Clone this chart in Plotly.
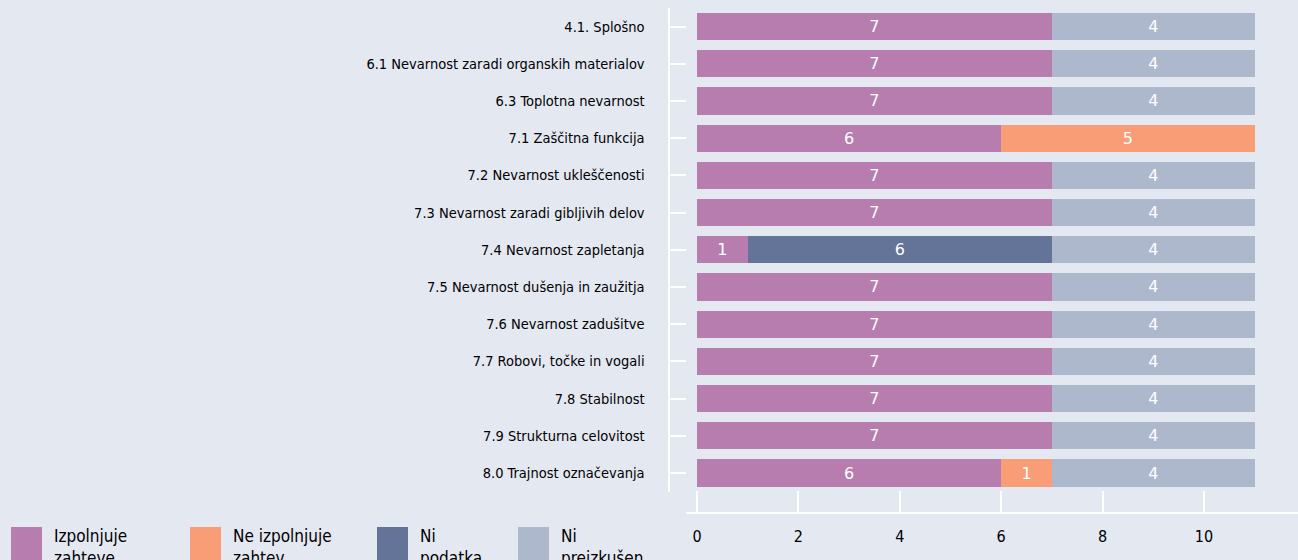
import plotly.graph_objects as go

categories = [
    "4.1. Splošno",
    "6.1 Nevarnost zaradi organskih materialov",
    "6.3 Toplotna nevarnost",
    "7.1 Zaščitna funkcija",
    "7.2 Nevarnost ukleščenosti",
    "7.3 Nevarnost zaradi gibljivih delov",
    "7.4 Nevarnost zapletanja",
    "7.5 Nevarnost dušenja in zaužitja",
    "7.6 Nevarnost zadušitve",
    "7.7 Robovi, točke in vogali",
    "7.8 Stabilnost",
    "7.9 Strukturna celovitost",
    "8.0 Trajnost označevanja",
]
series_names = ["Izpolnjuje zahteve", "Ne izpolnjuje zahtev", "Ni podatka", "Ni preizkušen"]
legend_labels = ["Izpolnjuje<br>zahteve", "Ne izpolnjuje<br>zahtev", "Ni<br>podatka", "Ni<br>preizkušen"]
izpolnjuje = [7, 7, 7, 6, 7, 7, 1, 7, 7, 7, 7, 7, 6]
ne_izpolnjuje = [0, 0, 0, 5, 0, 0, 0, 0, 0, 0, 0, 0, 1]
ni_podatka = [0, 0, 0, 0, 0, 0, 6, 0, 0, 0, 0, 0, 0]
ni_preizkusen = [4, 4, 4, 0, 4, 4, 4, 4, 4, 4, 4, 4, 4]
x_ticks = [0, 2, 4, 6, 8, 10]

colors = ["#b77daf", "#f99d76", "#647398", "#adb8cd"]
BG = "#e4e8f0"
FONT = "Liberation Sans Narrow, DejaVu Sans Condensed, Roboto Condensed, Roboto, sans-serif"
W, H = 1298, 560


def px(x):
    return x / W


def py(y):
    return 1 - y / H


fig = go.Figure()
for name, vals, col in zip(series_names, [izpolnjuje, ne_izpolnjuje, ni_podatka, ni_preizkusen], colors):
    fig.add_trace(go.Bar(
        name=name,
        orientation="h",
        y=categories,
        x=[v if v else None for v in vals],
        text=[str(v) if v else "" for v in vals],
        textposition="inside",
        insidetextanchor="middle",
        textangle=0,
        textfont=dict(color="white", size=16, family="DejaVu Sans, sans-serif"),
        marker=dict(color=col, line=dict(width=0)),
        showlegend=False,
    ))

shapes = []
annotations = []
leg_x = [11, 190, 377, 518]
for lx, lab, col in zip(leg_x, legend_labels, colors):
    shapes.append(dict(type="rect", xref="paper", yref="paper",
                       x0=px(lx), x1=px(lx + 31), y0=py(527), y1=py(566),
                       fillcolor=col, line=dict(width=0), layer="above"))
    annotations.append(dict(xref="paper", yref="paper", x=px(lx + 41), y=py(524),
                            xanchor="left", yanchor="top", align="left", showarrow=False,
                            text=lab, font=dict(size=17, color="#000", family=FONT)))

fig.update_layout(
    width=W, height=H,
    barmode="stack", bargap=0.27,
    paper_bgcolor=BG, plot_bgcolor=BG,
    margin=dict(l=0, r=0, t=0, b=0, pad=0),
    font=dict(family=FONT, color="#000"),
    showlegend=False,
    shapes=shapes,
    annotations=annotations,
    xaxis=dict(
        domain=[px(686), 1], range=[-0.217, 11.855],
        anchor="free", position=py(513),
        showline=True, linecolor="white", linewidth=2,
        ticks="inside", ticklen=21, tickwidth=2, tickcolor="white",
        tickvals=x_ticks, showgrid=False, zeroline=False,
        tickfont=dict(size=16, color="#000", family=FONT),
        ticklabelstandoff=9, automargin=False,
    ),
    yaxis=dict(
        domain=[py(491.6), py(7.9)],
        anchor="free", position=px(668.5),
        type="category", autorange="reversed",
        showline=True, linecolor="white", linewidth=2,
        ticks="inside", ticklen=16, tickwidth=2, tickcolor="white",
        showgrid=False, zeroline=False,
        tickfont=dict(size=14.5, color="#000", family=FONT),
        ticklabelstandoff=20, automargin=False,
    ),
)

fig.write_html("out.html", config={"displayModeBar": False},
               post_script="document.body.style.margin='0';document.body.style.overflow='hidden';")
